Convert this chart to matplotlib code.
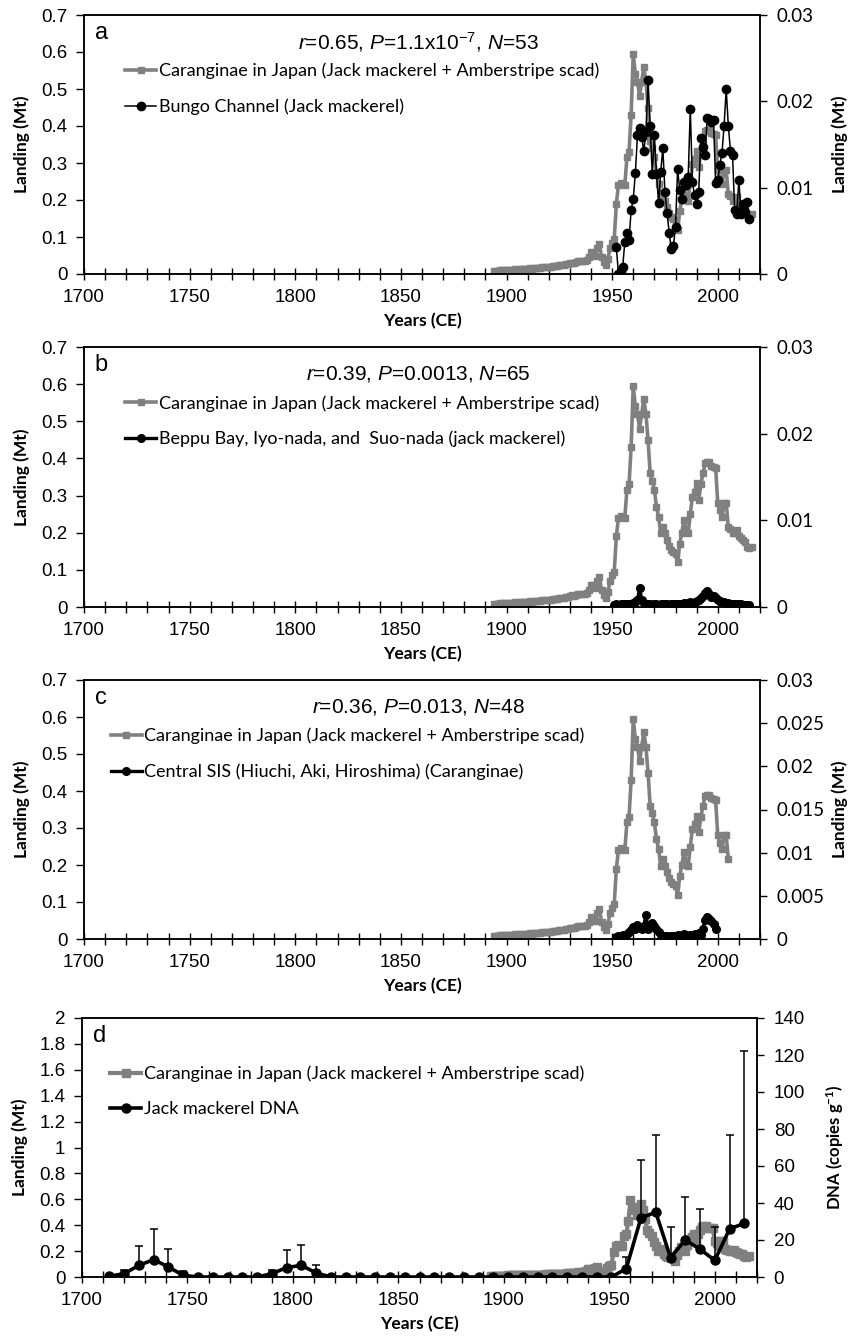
import matplotlib
matplotlib.use("Agg")
import matplotlib.pyplot as plt
import numpy as np
from matplotlib.ticker import MultipleLocator, FuncFormatter

plt.rcParams['font.family'] = ['Liberation Sans', 'DejaVu Sans']
plt.rcParams['mathtext.fontset'] = 'custom'
plt.rcParams['mathtext.rm'] = 'Liberation Sans'
plt.rcParams['mathtext.it'] = 'Liberation Sans:italic'
plt.rcParams['mathtext.bf'] = 'Lato:bold'

# Caranginae landings in Japan (Mt), annual
jp_years = np.arange(1894, 2017)
jp_landing = [
    0.008, 0.009, 0.009, 0.010, 0.010, 0.011, 0.010, 0.011, 0.012, 0.012,   # 1894-1903
    0.013, 0.012, 0.013, 0.013, 0.014, 0.013, 0.014, 0.015, 0.014, 0.015,   # 1904-1913
    0.016, 0.016, 0.017, 0.018, 0.018, 0.019, 0.020, 0.020, 0.021, 0.022,   # 1914-1923
    0.022, 0.023, 0.024, 0.025, 0.026, 0.027, 0.029, 0.031, 0.030, 0.032,   # 1924-1933
    0.034, 0.035, 0.034, 0.036, 0.038, 0.045, 0.060, 0.058, 0.050, 0.070,   # 1934-1943
    0.081, 0.045, 0.032, 0.025, 0.040, 0.070, 0.085, 0.095, 0.190, 0.240,   # 1944-1953
    0.245, 0.243, 0.240, 0.315, 0.330, 0.430, 0.595, 0.540, 0.520, 0.480,   # 1954-1963
    0.520, 0.560, 0.520, 0.450, 0.360, 0.340, 0.315, 0.270, 0.243, 0.198,   # 1964-1973
    0.216, 0.198, 0.180, 0.165, 0.153, 0.148, 0.144, 0.120, 0.170, 0.200,   # 1974-1983
    0.234, 0.210, 0.198, 0.250, 0.297, 0.310, 0.333, 0.288, 0.330, 0.360,   # 1984-1993
    0.387, 0.390, 0.390, 0.380, 0.378, 0.375, 0.280, 0.260, 0.243, 0.280,   # 1994-2003
    0.280, 0.216, 0.210, 0.198, 0.200, 0.207, 0.190, 0.185, 0.180, 0.175,   # 2004-2013
    0.162, 0.158, 0.162,                                                    # 2014-2016
]
jp_end_c = 2005  # series shown in panel c stops here

# a: Bungo Channel jack mackerel (Mt)
bungo_years = np.arange(1952, 2016)
bungo = [
    0.0031, 0.0000, 0.0004, 0.0008, 0.0037, 0.0048, 0.0039, 0.0074, 0.0087, 0.0117,
    0.0161, 0.0169, 0.0159, 0.0142, 0.0165, 0.0225, 0.0172, 0.0116, 0.0161, 0.0116,
    0.0082, 0.0118, 0.0146, 0.0095, 0.0071, 0.0048, 0.0029, 0.0033, 0.0054, 0.0122,
    0.0097, 0.0087, 0.0107, 0.0103, 0.0112, 0.0191, 0.0107, 0.0091, 0.0081, 0.0095,
    0.0157, 0.0147, 0.0138, 0.0181, 0.0179, 0.0176, 0.0178, 0.0105, 0.0109, 0.0126,
    0.0140, 0.0172, 0.0214, 0.0172, 0.0143, 0.0138, 0.0074, 0.0070, 0.0109, 0.0070,
    0.0081, 0.0072, 0.0083, 0.0064,
]

# b: Beppu Bay, Iyo-nada and Suo-nada jack mackerel (Mt)
beppu_years = np.arange(1951, 2016)
beppu = [
    0.0002, 0.0003, 0.0002, 0.0003, 0.0004, 0.0003, 0.0003, 0.0004, 0.0004, 0.0005,
    0.0006, 0.0008, 0.0022, 0.0008, 0.0005, 0.0004, 0.0003, 0.0003, 0.0002, 0.0003,
    0.0003, 0.0002, 0.0003, 0.0004, 0.0003, 0.0003, 0.0002, 0.0003, 0.0004, 0.0003,
    0.0004, 0.0003, 0.0004, 0.0005, 0.0004, 0.0005, 0.0006, 0.0005, 0.0006, 0.0007,
    0.0008, 0.0010, 0.0013, 0.0016, 0.0018, 0.0015, 0.0012, 0.0013, 0.0010, 0.0008,
    0.0007, 0.0006, 0.0006, 0.0005, 0.0005, 0.0004, 0.0004, 0.0003, 0.0003, 0.0003,
    0.0003, 0.0002, 0.0002, 0.0002, 0.0002,
]

# c: Central SIS (Hiuchi, Aki, Hiroshima) Caranginae (Mt)
sis_years = np.arange(1952, 2000)
sis = [
    0.0002, 0.0003, 0.0004, 0.0005, 0.0004, 0.0006, 0.0008, 0.0010, 0.0014, 0.0012,
    0.0016, 0.0013, 0.0012, 0.0015, 0.0028, 0.0012, 0.0016, 0.0018, 0.0015, 0.0012,
    0.0008, 0.0005, 0.0004, 0.0003, 0.0003, 0.0002, 0.0004, 0.0003, 0.0004, 0.0005,
    0.0004, 0.0005, 0.0006, 0.0005, 0.0004, 0.0005, 0.0003, 0.0006, 0.0005, 0.0007,
    0.0005, 0.0012, 0.0022, 0.0025, 0.0023, 0.0021, 0.0017, 0.0012,
]

# d: jack mackerel DNA in sediment (copies g-1), 7-yr layers, upper error only
dna_years = np.arange(1713, 2015, 7)
dna = [
    0.4, 1.8, 6.3, 9.4, 5.4, 0.9, 0, 0, 0, 0, 0,
    1.8, 5.1, 6.3, 2.2, 0, 0, 0, 0, 0, 0, 0,
    0, 0, 0, 0, 0, 0, 0, 0, 0, 0, 0,
    0, 0, 4.5, 32, 35, 10.5, 20, 15, 9, 26, 29,
]
dna_top = [
    0.4, 4, 16.6, 26.2, 15.4, 3.3, 0, 0, 0, 0, 0,
    4, 14.5, 17.2, 6.3, 0, 0, 0, 0, 0, 0, 0,
    0, 0, 0, 0, 0, 0, 0, 0, 0, 0, 0,
    0, 0, 11, 63, 77, 27, 43, 37, 27, 77, 122,
]

lab_jp = "Caranginae in Japan (Jack mackerel + Amberstripe scad)"
GRAY = '#808080'
W, H = 851, 1342

fig = plt.figure(figsize=(W / 100, H / 100), dpi=100)


def make_axes(left, right, top, bottom):
    return fig.add_axes([left / W, 1 - bottom / H, (right - left) / W, (bottom - top) / H])


def style(ax, ax2, ymax, ystep, y2max, y2step, rfont='Lato'):
    ax.set_xlim(1700, 2020)
    ax.set_ylim(0, ymax)
    ax2.set_ylim(0, y2max)
    ax.set_xticks(range(1700, 2001, 50))
    ax.xaxis.set_minor_locator(MultipleLocator(10))
    ax.yaxis.set_major_locator(MultipleLocator(ystep))
    ax2.yaxis.set_major_locator(MultipleLocator(y2step))
    ax.yaxis.set_major_formatter(FuncFormatter(lambda v, p: '%g' % round(v, 4)))
    ax2.yaxis.set_major_formatter(FuncFormatter(lambda v, p: '%g' % round(v, 4)))
    ax.tick_params(axis='x', which='both', direction='inout', length=8, width=1,
                   labelsize=13.5, pad=7)
    ax.tick_params(axis='y', direction='out', length=6, width=1, labelsize=13.5, pad=6)
    ax2.tick_params(axis='y', direction='out', length=5, width=1, labelsize=13.5, pad=7)
    for lab in ax2.get_yticklabels():
        lab.set_family(rfont)
    for a in (ax, ax2):
        for s in a.spines.values():
            s.set_linewidth(1.1)
    ax.set_xlabel('Years (CE)', family='Lato', fontweight='bold', fontsize=12.5)
    ax.xaxis.set_label_coords(0.5, -0.15)
    ax.set_ylabel('Landing (Mt)', family='Lato', fontweight='bold', fontsize=12.5)
    ax.yaxis.set_label_coords(-0.08, 0.5)


def legend(ax2, handles, labels, x0):
    ax2.legend(handles, labels, loc='upper left', bbox_to_anchor=(x0, 0.815),
               frameon=False, borderpad=0, handlelength=1.7, handletextpad=0.15,
               labelspacing=1.05, borderaxespad=0,
               prop={'family': 'Lato', 'size': 13})


def header(ax, letter, txt):
    ax.text(0.016, 0.93, letter, transform=ax.transAxes, fontsize=17,
            ha='left', va='center')
    if txt:
        ax.text(0.495, 0.895, txt, transform=ax.transAxes, fontsize=15,
                ha='center', va='center')


# ---- panel a
ax = make_axes(84, 760, 15, 274)
ax2 = ax.twinx()
g, = ax.plot(jp_years, jp_landing, color=GRAY, lw=2.6, marker='s', ms=5, mec=GRAY)
k, = ax2.plot(bungo_years, bungo, color='black', lw=1.1, marker='o', ms=6)
style(ax, ax2, 0.7, 0.1, 0.03, 0.01)
ax2.set_ylabel('Landing (Mt)', family='Lato', fontweight='bold', fontsize=12.5)
ax2.yaxis.set_label_coords(1.105, 0.5)
header(ax, 'a', r'$\it{r}$=0.65, $\it{P}$=1.1x10$^{-7}$, $\it{N}$=53')
legend(ax2, [g, k], [lab_jp, 'Bungo Channel (Jack mackerel)'], 0.061)

# ---- panel b
ax = make_axes(84, 760, 347, 607)
ax2 = ax.twinx()
g, = ax.plot(jp_years, jp_landing, color=GRAY, lw=2.6, marker='s', ms=5, mec=GRAY)
k, = ax2.plot(beppu_years, beppu, color='black', lw=2.4, marker='o', ms=5.5)
style(ax, ax2, 0.7, 0.1, 0.03, 0.01)
header(ax, 'b', r'$\it{r}$=0.39, $\it{P}$=0.0013, $\it{N}$=65')
legend(ax2, [g, k], [lab_jp, 'Beppu Bay, Iyo-nada, and  Suo-nada (jack mackerel)'], 0.061)

# ---- panel c
ax = make_axes(84, 760, 680, 939)
ax2 = ax.twinx()
yc = jp_years <= jp_end_c
g, = ax.plot(jp_years[yc], np.array(jp_landing)[yc], color=GRAY, lw=2.6, marker='s',
             ms=5, mec=GRAY)
k, = ax2.plot(sis_years, sis, color='black', lw=2.4, marker='o', ms=5.5)
style(ax, ax2, 0.7, 0.1, 0.03, 0.005)
ax2.set_ylabel('Landing (Mt)', family='Lato', fontweight='bold', fontsize=12.5)
ax2.yaxis.set_label_coords(1.105, 0.5)
header(ax, 'c', r'$\it{r}$=0.36, $\it{P}$=0.013, $\it{N}$=48')
legend(ax2, [g, k], [lab_jp, 'Central SIS (Hiuchi, Aki, Hiroshima) (Caranginae)'], 0.04)

# ---- panel d
ax = make_axes(82, 757, 1018, 1277)
ax2 = ax.twinx()
g, = ax.plot(jp_years, jp_landing, color=GRAY, lw=3, marker='s', ms=5.5, mec=GRAY)
err = np.array(dna_top) - np.array(dna)
ax2.errorbar(dna_years, dna, yerr=[np.zeros(len(dna)), err], fmt='none',
             ecolor='black', elinewidth=1.1, capsize=3, capthick=1.1)
k, = ax2.plot(dna_years, dna, color='black', lw=2.6, marker='o', ms=6.5)
style(ax, ax2, 2, 0.2, 140, 20, rfont='Liberation Sans')
ax2.set_ylabel(r'DNA (copies g$^{\mathbf{-1}}$)', family='Lato', fontweight='bold',
               fontsize=12)
ax2.yaxis.set_label_coords(1.1, 0.5)
header(ax, 'd', None)
legend(ax2, [g, k], [lab_jp, 'Jack mackerel DNA'], 0.042)

fig.savefig('out.png', dpi=100)
